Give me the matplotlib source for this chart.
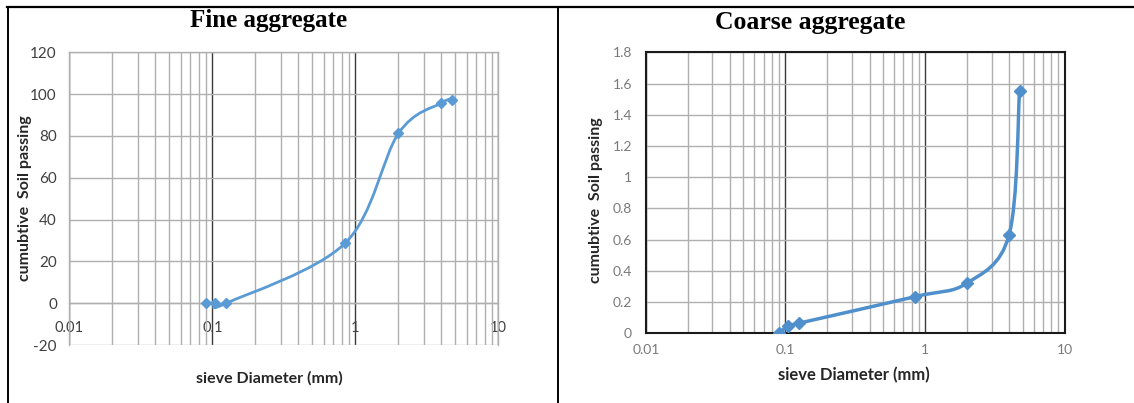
import numpy as np
import matplotlib
matplotlib.use('Agg')
import matplotlib.pyplot as plt
from matplotlib.path import Path
from matplotlib.patches import PathPatch
from matplotlib.lines import Line2D
from matplotlib.ticker import FixedLocator, FixedFormatter, LogLocator, NullFormatter

# sieve sizes (mm) and cumulative passing
sieve_mm = [0.09, 0.105, 0.125, 0.85, 2.0, 4.0, 4.75]
fine_passing = [0, 0, 0, 28.8, 81.2, 95.8, 97.4]
coarse_passing = [0.005, 0.045, 0.065, 0.235, 0.322, 0.632, 1.555]

x_ticks = [0.01, 0.1, 1, 10]
x_tick_labels = ['0.01', '0.1', '1', '10']
fine_y_ticks = [-20, 0, 20, 40, 60, 80, 100, 120]
coarse_y_ticks = [0, 0.2, 0.4, 0.6, 0.8, 1.0, 1.2, 1.4, 1.6, 1.8]

BLUE = '#5B9BD5'
GRID = '#AFAFAF'
DARK = '#3A3A3A'
plt.rcParams['font.family'] = ['Lato', 'DejaVu Sans']


def smooth_path(xs, ys):
    # Excel-like smoothed line: cubic Bezier through the points in (log x, y)
    pts = np.column_stack([np.log10(xs), ys])
    n = len(pts)
    verts = [pts[0]]
    codes = [Path.MOVETO]
    for i in range(n - 1):
        p0 = pts[max(i - 1, 0)]
        p1 = pts[i]
        p2 = pts[i + 1]
        p3 = pts[min(i + 2, n - 1)]
        verts += [p1 + (p2 - p0) / 6, p2 - (p3 - p1) / 6, p2]
        codes += [Path.CURVE4] * 3
    verts = np.array(verts)
    verts[:, 0] = 10 ** verts[:, 0]
    return Path(verts, codes)


def setup_log_axis(ax):
    ax.set_xscale('log')
    ax.set_xlim(0.01, 10)
    ax.xaxis.set_major_locator(FixedLocator(x_ticks))
    ax.xaxis.set_major_formatter(FixedFormatter(x_tick_labels))
    ax.xaxis.set_minor_locator(LogLocator(base=10, subs=range(2, 10)))
    ax.xaxis.set_minor_formatter(NullFormatter())
    ax.set_axisbelow(True)
    ax.grid(which='major', axis='x', color=DARK, lw=1.0)
    ax.grid(which='minor', axis='x', color=GRID, lw=1.0)
    ax.grid(which='major', axis='y', color=GRID, lw=1.0)
    ax.tick_params(which='both', length=0)


fig = plt.figure(figsize=(11.34, 4.03), dpi=100)

# ---- Fine aggregate ----
ax1 = fig.add_axes([0.0612, 0.1439, 0.3783, 0.7263])
setup_log_axis(ax1)
ax1.set_ylim(-20, 120)
ax1.set_yticks(fine_y_ticks)
ax1.set_yticklabels([str(v) for v in fine_y_ticks])
for s in ax1.spines.values():
    s.set_color(GRID)
    s.set_linewidth(1.0)
ax1.spines['bottom'].set_position(('data', 0))
ax1.tick_params(axis='x', pad=13, labelsize=10.5, labelcolor='#404040')
ax1.tick_params(axis='y', pad=9, labelsize=11, labelcolor='#404040')
ax1.add_patch(PathPatch(smooth_path(sieve_mm, fine_passing), fill=False,
                        edgecolor=BLUE, lw=2.0, zorder=3))
ax1.plot(sieve_mm, fine_passing, ls='none', marker='D', ms=5, color=BLUE, zorder=4)

# ---- Coarse aggregate ----
ax2 = fig.add_axes([0.5695, 0.1729, 0.3694, 0.6973])
setup_log_axis(ax2)
ax2.set_ylim(0, 1.8)
ax2.set_yticks(coarse_y_ticks)
ax2.set_yticklabels([f'{v:g}' for v in coarse_y_ticks])
for s in ax2.spines.values():
    s.set_color('#1a1a1a')
    s.set_linewidth(1.5)
ax2.tick_params(axis='x', pad=8, labelsize=10, labelcolor='#7a7a7a')
ax2.tick_params(axis='y', pad=10, labelsize=10, labelcolor='#7a7a7a')
ax2.add_patch(PathPatch(smooth_path(sieve_mm, coarse_passing), fill=False,
                        edgecolor='#4F8FCC', lw=2.5, zorder=3))
ax2.plot(sieve_mm, coarse_passing, ls='none', marker='D', ms=6, color='#4F8FCC', zorder=4)

# ---- titles and labels ----
fig.text(269 / 1134, 1 - 21 / 403, 'Fine aggregate', ha='center', va='center',
         family='Liberation Serif', weight='bold', fontsize=18)
fig.text(810 / 1134, 1 - 23 / 403, 'Coarse aggregate', ha='center', va='center',
         family='Liberation Serif', weight='bold', fontsize=18.5)
fig.text(25 / 1134, 1 - 198 / 403, 'cumubtive  Soil passing', rotation=90,
         ha='center', va='center', weight='bold', fontsize=11.5, color='#262626')
fig.text(596 / 1134, 1 - 200 / 403, 'cumubtive  Soil passing', rotation=90,
         ha='center', va='center', weight='bold', fontsize=11.5, color='#262626')
fig.text(269 / 1134, 1 - 378 / 403, 'sieve Diameter (mm)', ha='center', va='center',
         weight='bold', fontsize=11.5, color='#262626')
fig.text(854 / 1134, 1 - 375 / 403, 'sieve Diameter (mm)', ha='center', va='center',
         weight='bold', fontsize=12, color='#262626')

# table-like panel borders
top = 1 - 7 / 403
fig.add_artist(Line2D([7 / 1134, 1], [top, top], color='black', lw=1.6,
                      transform=fig.transFigure))
fig.add_artist(Line2D([8 / 1134, 8 / 1134], [0, top], color='black', lw=1.4,
                      transform=fig.transFigure))
fig.add_artist(Line2D([557.5 / 1134, 557.5 / 1134], [0, top], color='black', lw=1.4,
                      transform=fig.transFigure))

fig.savefig('out.png', dpi=100)
